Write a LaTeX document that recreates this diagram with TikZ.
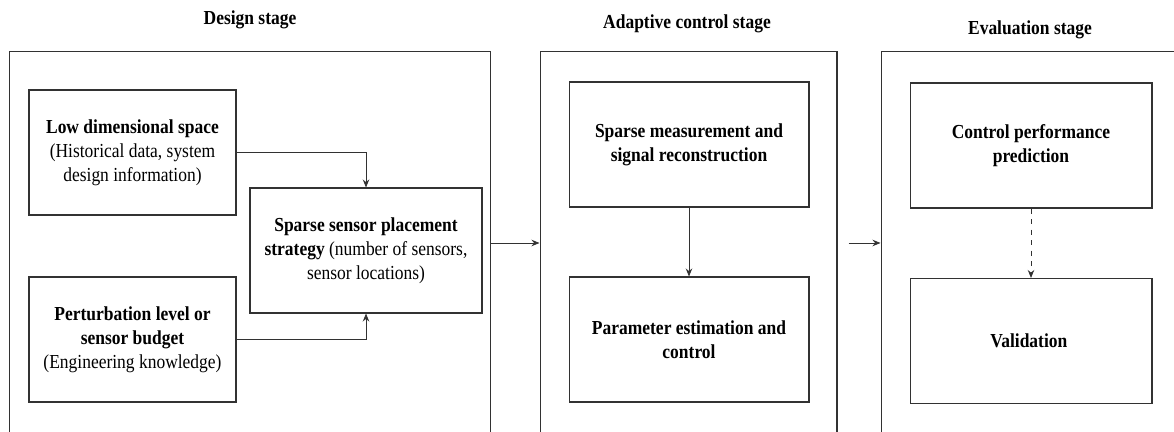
\documentclass[tikz,border=0pt]{standalone}
\usepackage{fontspec}
\setmainfont{Liberation Serif}[FakeStretch=0.88]
\usepackage{tikz}
\usetikzlibrary{arrows.meta, positioning, calc}
\definecolor{lineblack}{RGB}{50,50,50}
\tikzset{
    % Stage frames
    stagebox/.style={rectangle, draw=lineblack, line width=0.6pt,
                minimum height=7.68cm, inner sep=0pt},
    stagelbl/.style={font=\fontsize{11.3}{13.6}\selectfont\bfseries},
    % Inner blocks
    blockbox/.style={rectangle, draw=lineblack, line width=0.6pt, fill=white,
                minimum height=2.5cm, align=center,
                font=\fontsize{11.3}{13.6}\selectfont},
    % Arrows
    barrow/.style={-{Stealth[length=1.6mm, width=1.3mm]}, line width=0.5pt, lineblack},
}

\begin{document}
\begin{tikzpicture}[x=0.02cm, y=-0.02cm]
\useasboundingbox (0,0) rectangle (1174,432);
\clip (0,0) rectangle (1174,432);

% Stage frames
\node[stagebox, minimum width=9.64cm] (design) at (250,243) {};
\node[stagebox, minimum width=5.94cm] (adapt) at (688.5,243) {};
\node[stagebox, minimum width=5.96cm] (eval) at (1030,243) {};

% Stage titles
\node[stagelbl] (designlbl) at (250,20) {Design stage};
\node[stagelbl] (adaptlbl) at (687,24) {Adaptive control stage};
\node[stagelbl] (evallbl) at (1030,30) {Evaluation stage};

% Design stage
\node[blockbox, minimum width=4.14cm] (lowdim) at (132.5,152.5) {
    \textbf{Low dimensional space}\\
    (Historical data, system\\
    design information)
};
\node[blockbox, minimum width=4.14cm] (budget) at (132.5,339.5) {
    \textbf{Perturbation level or}\\
    \textbf{sensor budget}\\
    (Engineering knowledge)
};
\node[blockbox, minimum width=4.64cm] (placement) at (366,250.5) {
    \textbf{Sparse sensor placement}\\
    \textbf{strategy} (number of sensors,\\
    sensor locations)
};

% Adaptive control stage
\node[blockbox, minimum width=4.8cm] (measure) at (689,144.5) {
    \textbf{Sparse measurement and}\\
    \textbf{signal reconstruction}
};
\node[blockbox, minimum width=4.8cm] (estim) at (689,339.5) {
    \textbf{Parameter estimation and}\\
    \textbf{control}
};

% Evaluation stage
\node[blockbox, minimum width=4.84cm] (predict) at (1031,145.5) {
    \textbf{Control performance}\\
    \textbf{prediction}
};
\node[blockbox, minimum width=4.84cm] (valid) at (1031,341) {
    \textbf{Validation}
};

% Arrows
\draw[barrow] (lowdim.east) -| (placement.north);
\draw[barrow] (budget.east) -| (placement.south);
\draw[barrow] (design.east) -- (adapt.west);
\draw[barrow] (measure.south) -- (estim.north);
\draw[barrow, shorten <=0.22cm] (adapt.east) -- (eval.west);
\draw[barrow, dashed] (predict.south) -- (valid.north);

\end{tikzpicture}
\end{document}
